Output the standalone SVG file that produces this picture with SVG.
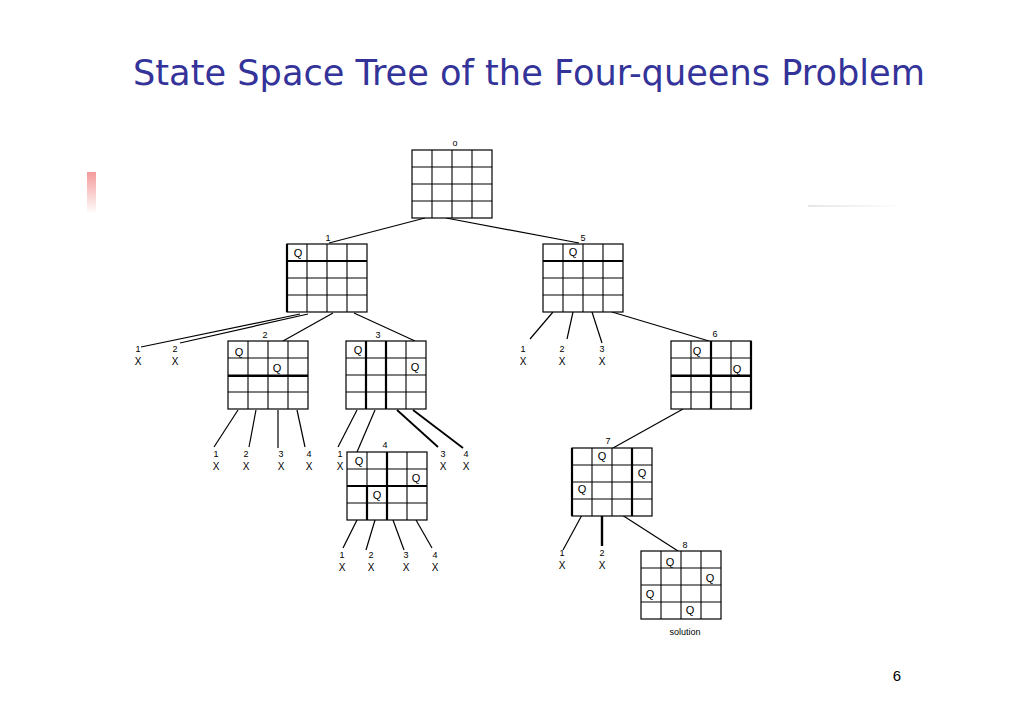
<svg xmlns="http://www.w3.org/2000/svg" width="1030" height="728" viewBox="0 0 1030 728">
<style>
.g{fill:#fff;stroke:#000;stroke-width:1.2}
.gl{stroke:#000;stroke-width:1.1;fill:none}
.tk{stroke:#000;stroke-width:2.2;fill:none}
.c line{stroke:#000;stroke-width:1.2}
.q{font-family:"Liberation Sans",Arial,sans-serif;font-size:11px;fill:#000;text-anchor:middle}
.n{font-family:"Liberation Sans",Arial,sans-serif;font-size:9px;fill:#000;text-anchor:middle}
.x{font-family:"Liberation Sans",Arial,sans-serif;font-size:10px;fill:#000;text-anchor:middle}
.title{font-family:"DejaVu Sans","Liberation Sans",Arial,sans-serif;font-size:35px;fill:#333399}
</style>
<defs>
<g id="grid">
<rect class="g" x="0" y="0" width="80" height="68"/>
<path class="gl" d="M20 0V68M40 0V68M60 0V68M0 17H80M0 34H80M0 51H80"/>
</g>
<linearGradient id="rb" x1="0" y1="0" x2="0" y2="1">
<stop offset="0" stop-color="#f49a9a"/>
<stop offset="1" stop-color="#ffffff"/>
</linearGradient>
<linearGradient id="gl2" x1="0" y1="0" x2="1" y2="0">
<stop offset="0" stop-color="#e6e6e6"/>
<stop offset="1" stop-color="#ffffff"/>
</linearGradient>
</defs>
<rect width="1030" height="728" fill="#fff"/>
<rect x="87" y="172" width="9" height="42" fill="url(#rb)"/>
<rect x="808" y="205" width="95" height="2" fill="url(#gl2)"/>
<text class="title" x="133" y="85" textLength="792" lengthAdjust="spacingAndGlyphs">State Space Tree of the Four-queens Problem</text>
<text x="897" y="681" font-family="Liberation Sans,Arial,sans-serif" font-size="15" text-anchor="middle" fill="#000">6</text>

<g id="connectors" class="c">
<line x1="425" y1="218" x2="329" y2="243"/>
<line x1="446" y1="218" x2="579" y2="243"/>
<line x1="300" y1="314" x2="141" y2="347"/>
<line x1="308" y1="314" x2="180" y2="343"/>
<line x1="333" y1="313" x2="283" y2="341"/>
<line x1="354" y1="313" x2="415" y2="341"/>
<line x1="238" y1="410" x2="214" y2="447"/>
<line x1="256" y1="410" x2="249" y2="447"/>
<line x1="278" y1="410" x2="278" y2="448"/>
<line x1="297" y1="410" x2="305" y2="447"/>
<line x1="357" y1="410" x2="338" y2="447"/>
<line x1="375" y1="410" x2="357" y2="452"/>
<line x1="397" y1="410" x2="438" y2="447" style="stroke-width:1.8"/>
<line x1="413" y1="410" x2="463" y2="448" style="stroke-width:1.8"/>
<line x1="357" y1="520" x2="343" y2="548"/>
<line x1="375" y1="520" x2="366" y2="550"/>
<line x1="393" y1="520" x2="404" y2="550"/>
<line x1="416" y1="520" x2="432" y2="548"/>
<line x1="553" y1="312" x2="530" y2="339"/>
<line x1="573" y1="312" x2="567" y2="339"/>
<line x1="592" y1="312" x2="602" y2="343"/>
<line x1="612" y1="312" x2="709" y2="341"/>
<line x1="683" y1="409" x2="613" y2="448"/>
<line x1="582" y1="515" x2="563" y2="550"/>
<line x1="602" y1="515" x2="602" y2="546" style="stroke-width:2.4"/>
<line x1="622" y1="515" x2="678" y2="551"/>
</g>

<g id="node0" transform="translate(412,150)">
<use href="#grid"/>
<text class="n" x="43" y="-4">o</text>
</g>

<g id="node1" transform="translate(287,244)">
<use href="#grid"/>
<path class="tk" d="M0 0V68M0 17H80"/>
<text class="n" x="41" y="-3">1</text>
<text class="q" x="11" y="13">Q</text>
</g>

<g id="node5" transform="translate(543,244)">
<use href="#grid"/>
<path class="tk" d="M0 17H80"/>
<text class="n" x="40" y="-3">5</text>
<text class="q" x="30" y="12">Q</text>
</g>

<g id="node2" transform="translate(228,341)">
<use href="#grid"/>
<path class="tk" d="M0 35H80"/>
<text class="n" x="37" y="-3">2</text>
<text class="q" x="11" y="15">Q</text>
<text class="q" x="49" y="31">Q</text>
</g>

<g id="node3" transform="translate(346,341)">
<use href="#grid"/>
<path class="tk" d="M20 0V68M40 0V68"/>
<text class="n" x="32" y="-3">3</text>
<text class="q" x="12" y="13">Q</text>
<text class="q" x="69" y="30">Q</text>
</g>

<g id="node6" transform="translate(671,341)">
<use href="#grid"/>
<path class="tk" d="M80 0V68M40 0V68M0 35H80"/>
<text class="n" x="44" y="-4">6</text>
<text class="q" x="26" y="14">Q</text>
<text class="q" x="66" y="32">Q</text>
</g>

<g id="node4" transform="translate(347,452)">
<use href="#grid"/>
<path class="tk" d="M40 0V68M0 34H80M20 34V68"/>
<text class="n" x="38" y="-4">4</text>
<text class="q" x="12" y="13">Q</text>
<text class="q" x="69" y="30">Q</text>
<text class="q" x="30" y="47">Q</text>
</g>

<g id="node7" transform="translate(572,448)">
<use href="#grid"/>
<path class="tk" d="M0 0V68M60 0V68"/>
<text class="n" x="36" y="-4">7</text>
<text class="q" x="30" y="12">Q</text>
<text class="q" x="70" y="29">Q</text>
<text class="q" x="10" y="45">Q</text>
</g>

<g id="node8" transform="translate(641,551)">
<use href="#grid"/>
<text class="n" x="44" y="-3">8</text>
<text class="q" x="29" y="15">Q</text>
<text class="q" x="69" y="31">Q</text>
<text class="q" x="9" y="47">Q</text>
<text class="q" x="49" y="63">Q</text>
<text class="n" x="44" y="84">solution</text>
</g>

<g id="leaves-n1">
<text class="n" x="138" y="352">1</text><text class="x" x="138" y="365">X</text>
<text class="n" x="175" y="352">2</text><text class="x" x="175" y="365">X</text>
</g>
<g id="leaves-n5">
<text class="n" x="523" y="352">1</text><text class="x" x="523" y="365">X</text>
<text class="n" x="562" y="352">2</text><text class="x" x="562" y="365">X</text>
<text class="n" x="602" y="352">3</text><text class="x" x="602" y="365">X</text>
</g>
<g id="leaves-n2">
<text class="n" x="216" y="457">1</text><text class="x" x="216" y="470">X</text>
<text class="n" x="246" y="457">2</text><text class="x" x="246" y="470">X</text>
<text class="n" x="281" y="457">3</text><text class="x" x="281" y="470">X</text>
<text class="n" x="309" y="457">4</text><text class="x" x="309" y="470">X</text>
</g>
<g id="leaves-n3">
<text class="n" x="340" y="457">1</text><text class="x" x="340" y="470">X</text>
<text class="n" x="443" y="457">3</text><text class="x" x="443" y="470">X</text>
<text class="n" x="466" y="457">4</text><text class="x" x="466" y="470">X</text>
</g>
<g id="leaves-n4">
<text class="n" x="342" y="558">1</text><text class="x" x="342" y="571">X</text>
<text class="n" x="371" y="558">2</text><text class="x" x="371" y="571">X</text>
<text class="n" x="406" y="558">3</text><text class="x" x="406" y="571">X</text>
<text class="n" x="435" y="558">4</text><text class="x" x="435" y="571">X</text>
</g>
<g id="leaves-n7">
<text class="n" x="562" y="556">1</text><text class="x" x="562" y="569">X</text>
<text class="n" x="602" y="556">2</text><text class="x" x="602" y="569">X</text>
</g>
</svg>
